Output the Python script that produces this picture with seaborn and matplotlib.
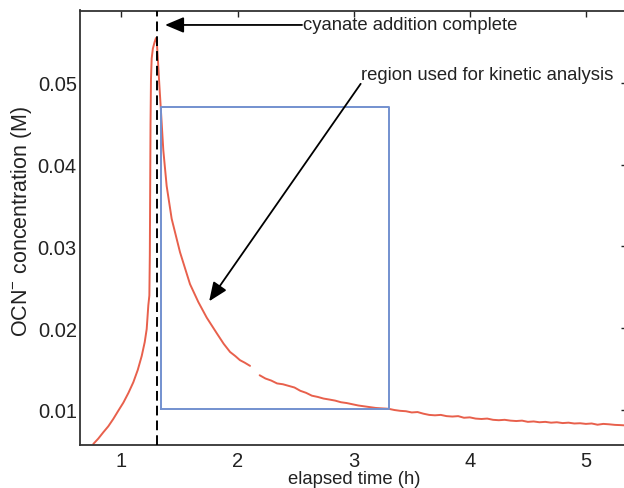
import numpy as np
import pandas as pd
import matplotlib
matplotlib.use("Agg")
import matplotlib.pyplot as plt
import seaborn as sns

# ---- data ----
rise_t = [0.757, 0.80, 0.843, 0.886, 0.929, 0.972, 1.016, 1.06, 1.102, 1.14, 1.174,
          1.20, 1.217, 1.231, 1.240, 1.244, 1.247, 1.250, 1.254, 1.260, 1.270, 1.285, 1.297]
rise_c = [0.00584, 0.0065, 0.00727, 0.0080, 0.0089, 0.0099, 0.0109, 0.0121, 0.0134,
          0.0149, 0.0166, 0.0183, 0.0199, 0.0228, 0.0240, 0.0290, 0.0370, 0.0450,
          0.0505, 0.0530, 0.0542, 0.0550, 0.0555]

decay_t = [1.303, 1.315, 1.325, 1.338, 1.360, 1.389, 1.432, 1.504, 1.59, 1.662, 1.734,
           1.82, 1.88, 1.935, 1.98, 2.02, 2.06, 2.107]
decay_c = [0.0553, 0.0525, 0.0500, 0.0470, 0.0418, 0.0374, 0.0334, 0.0293, 0.0254,
           0.0232, 0.0213, 0.0194, 0.0181, 0.0171, 0.0166, 0.0161, 0.0158, 0.0154]

tail_t = [2.19, 2.24, 2.29, 2.34, 2.39, 2.44, 2.49, 2.54, 2.59, 2.64, 2.69, 2.74, 2.79,
          2.84, 2.89, 2.94, 2.99, 3.04, 3.09, 3.14, 3.19, 3.24, 3.30, 3.35, 3.40, 3.45,
          3.50, 3.55, 3.60, 3.65, 3.70, 3.75, 3.80, 3.85, 3.90, 3.95, 4.00, 4.05, 4.10,
          4.15, 4.20, 4.25, 4.30, 4.35, 4.40, 4.45, 4.50, 4.55, 4.60, 4.65, 4.70, 4.75,
          4.80, 4.85, 4.90, 4.95, 5.00, 5.05, 5.10, 5.15, 5.20, 5.25, 5.30, 5.36]
tail_c = [0.01425, 0.01385, 0.01360, 0.01325, 0.01315, 0.01295, 0.01275, 0.01235,
          0.01210, 0.01175, 0.01160, 0.01140, 0.01128, 0.01115, 0.01095, 0.01085,
          0.01070, 0.01055, 0.01045, 0.01035, 0.01025, 0.01020, 0.01015, 0.01000,
          0.00990, 0.00985, 0.00970, 0.00975, 0.00955, 0.00940, 0.00935, 0.00940,
          0.00925, 0.00920, 0.00925, 0.00905, 0.00910, 0.00895, 0.00890, 0.00895,
          0.00880, 0.00875, 0.00880, 0.00870, 0.00865, 0.00870, 0.00855, 0.00860,
          0.00850, 0.00855, 0.00845, 0.00850, 0.00840, 0.00845, 0.00835, 0.00838,
          0.00830, 0.00835, 0.00820, 0.00830, 0.00825, 0.00818, 0.00815, 0.00810]

addition_time = 1.303
region_t = [1.34, 3.30]
region_c = [0.0101, 0.0471]

x_ticks = [1, 2, 3, 4, 5]
y_ticks = [0.01, 0.02, 0.03, 0.04, 0.05]
y_ticklabels = ["0.01", "0.02", "0.03", "0.04", "0.05"]

# ---- build table ----
df = pd.concat([
    pd.DataFrame({"t": rise_t + decay_t, "c": rise_c + decay_c, "seg": 0}),
    pd.DataFrame({"t": tail_t, "c": tail_c, "seg": 1}),
], ignore_index=True)

sns.set_theme(style="white")
plt.rcParams["font.family"] = ["Liberation Sans", "DejaVu Sans"]
plt.rcParams["mathtext.fontset"] = "custom"
plt.rcParams["mathtext.rm"] = "Liberation Sans"

fig = plt.figure(figsize=(6.24, 4.89), dpi=100)
ax = fig.add_axes([79.6 / 624, 43 / 489, (627 - 79.6) / 624, (446 - 11.5) / 489])
ax.set_facecolor("white")

sns.lineplot(data=df, x="t", y="c", units="seg", estimator=None, sort=False,
             color="#E8604C", lw=1.4, ax=ax)

# region box
ax.plot([region_t[0], region_t[1], region_t[1], region_t[0], region_t[0]],
        [region_c[0], region_c[0], region_c[1], region_c[1], region_c[0]],
        color="#7391CF", lw=1.4, zorder=3)

ax.axvline(addition_time, color="black", lw=1.4, ls=(0, (5, 2.6)), zorder=4)

px_per_h = 116.1
ax.set_xlim(1 - (121.5 - 79.6) / px_per_h, 1 + (627 - 121.5) / px_per_h)
ax.set_ylim(0.01 - 35 / 8175, 0.05 + 72.5 / 8175)

arrow_kw = dict(arrowstyle="-|>,head_length=0.95,head_width=0.4", color="black",
                lw=1.3, shrinkA=0, shrinkB=0, mutation_scale=12)
ax.annotate("", xy=(1.375, 0.0571), xytext=(2.555, 0.0571), arrowprops=arrow_kw)
ax.text(2.56, 0.0571, "cyanate addition complete", ha="left", va="center",
        fontsize=13.3, color="#222222")
ax.annotate("", xy=(1.755, 0.0233), xytext=(3.06, 0.0499), arrowprops=arrow_kw)
ax.text(3.065, 0.0511, "region used for kinetic analysis", ha="left", va="center",
        fontsize=13.3, color="#222222")

ax.set_xticks(x_ticks)
ax.set_xticklabels([str(v) for v in x_ticks])
ax.set_yticks(y_ticks)
ax.set_yticklabels(y_ticklabels)
ax.tick_params(direction="in", length=4.5, width=1, top=True, right=True,
               labelsize=14.5, colors="#222222", pad=2)
ax.tick_params(axis="x", pad=4)
for tl in ax.yaxis.get_majorticklines()[1::2]:
    tl.set_color("#c8c8c8")
ax.set_xlabel("elapsed time (h)", fontsize=13.3, color="#222222")
ax.set_ylabel("OCN$^{-}$ concentration (M)", fontsize=15.5, color="#222222")
ax.xaxis.set_label_coords((354 - 79.6) / 547.4, -(480 - 446) / 434.5)
ax.xaxis.label.set_va("center")
ax.yaxis.set_label_coords(-(79.6 - 22) / 547.4, (446 - 221) / 434.5)
ax.yaxis.label.set_va("center")
for s in ax.spines.values():
    s.set_color("#333333")
    s.set_linewidth(1.3)
    s.set_visible(True)

fig.savefig("out.png", dpi=100, facecolor="white")
